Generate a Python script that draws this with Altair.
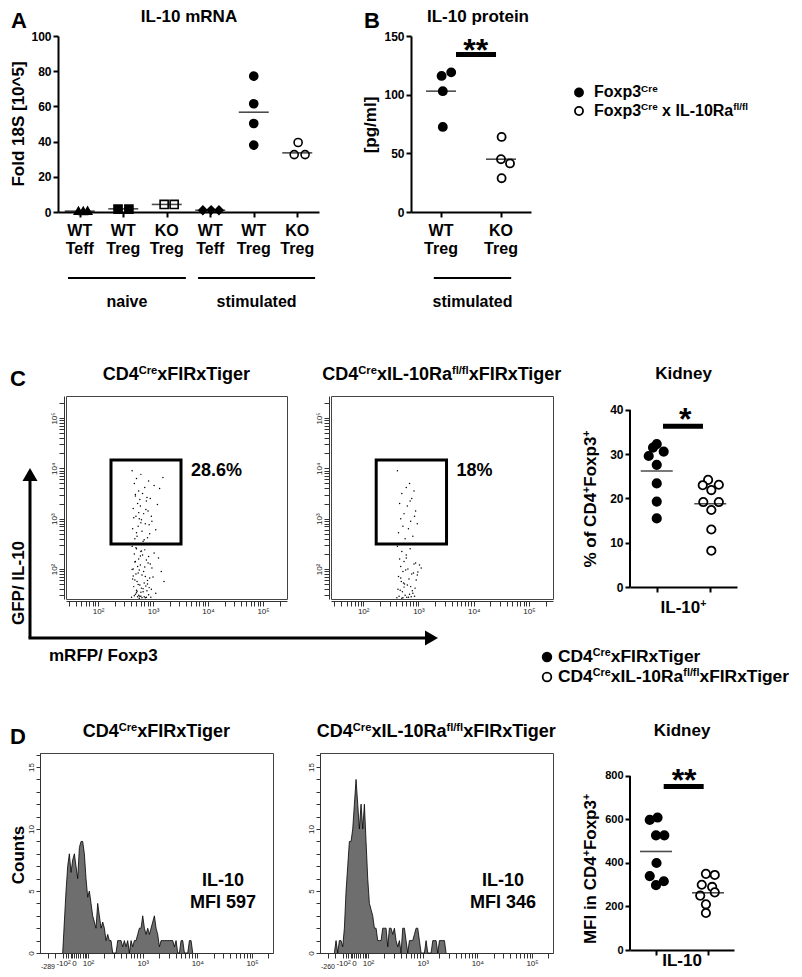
import altair as alt
import numpy as np
import pandas as pd

FONT = "Liberation Sans"

# ======================= DATA =======================
# ---- Panel A : IL-10 mRNA (Fold 18S [10^5]) ----
A_cat_labels = ["WT\nTeff", "WT\nTreg", "KO\nTreg", "WT\nTeff", "WT\nTreg", "KO\nTreg"]
A_cat_shapes = ["triangle-up", "square", "square", "diamond", "circle", "circle"]
A_cat_fills = ["black", "black", "white", "black", "black", "white"]
A_pt_group = [0, 0, 0, 1, 1, 2, 2, 3, 3, 3, 4, 4, 4, 4, 5, 5, 5]
A_pt_value = [0.7, 0.8, 0.6, 1.6, 1.6, 4.3, 4.3, 1.0, 1.1, 1.0, 77.2, 61.5, 50.3, 38.0, 39.5, 32.6, 32.6]
A_pt_jitter = [-0.03, 0.18, 0.08, -0.12, 0.13, -0.06, 0.17, -0.17, 0.02, 0.20, 0, 0, 0, 0, 0.02, -0.07, 0.18]
A_means = [0.5, 1.8, 4.3, 1.0, 56.7, 33.6]
A_brackets = ["naive", "stimulated"]
A_bracket_from = [0.23, 3.22]
A_bracket_to = [2.94, 5.91]

# ---- Panel B : IL-10 protein [pg/ml] ----
B_cat_labels = ["WT\nTreg", "KO\nTreg"]
B_genotypes = [[("Foxp3", 0), ("Cre", 1)],
               [("Foxp3", 0), ("Cre", 1), (" x IL-10Ra", 0), ("fl/fl", 1)]]
B_wt = [116, 119, 103, 72.5]
B_wt_jitter = [0.01, 0.17, 0.03, 0.03]
B_ko = [64, 45, 41.4, 28.8]
B_ko_jitter = [0.01, 0.0, 0.15, 0.01]
B_means = [103, 45]
B_sig = {"from": 0.75, "to": 1.417, "level": 134.2, "star_pos": 1.08, "stars": "**"}
B_bracket = {"from": 0.38, "to": 1.67, "label": "stimulated"}

# ---- Panel C : flow plots (log10 units) ----
CD_genotypes = [[("CD4", 0), ("Cre", 1), ("xFIRxTiger", 0)],
                [("CD4", 0), ("Cre", 1), ("xIL-10Ra", 0), ("fl/fl", 1), ("xFIRxTiger", 0)]]
C_percent = ["28.6%", "18%"]
C_gate_x = [2.236, 3.509]
C_gate_y = [2.496, 4.165]
C1_logx = [2.62, 2.70, 2.78, 2.66, 2.85, 2.92, 2.74, 2.68, 2.81, 2.95,
           3.02, 2.72, 2.88, 2.64, 2.77, 2.83, 2.91, 2.69, 2.75, 2.98,
           3.08, 2.86, 2.73, 2.63, 2.80, 2.94, 2.71, 2.67, 2.84, 2.90,
           3.12, 2.76, 2.65, 2.79, 2.87, 2.97, 2.70, 2.82, 2.93, 3.05,
           2.68, 2.74, 2.89, 2.78, 3.18,
           2.62, 2.70, 2.78, 2.66, 2.85, 2.92, 2.74, 2.68, 2.81, 2.95,
           3.02, 2.72, 2.88, 2.64, 2.77, 2.83, 2.91, 2.69, 2.75, 2.98,
           3.10, 2.86, 2.73, 2.63, 2.80, 2.94, 2.71, 2.67, 2.84, 2.90,
           3.15, 2.76, 2.65, 2.79, 2.87, 2.97, 2.70, 2.82, 2.93, 3.05,
           2.68, 2.74, 2.89, 2.78, 3.20, 2.61, 2.72, 2.80, 2.66, 2.88,
           2.75, 2.70, 2.84, 2.92, 2.64, 2.78, 2.86, 2.96, 2.69, 2.77,
           2.62, 2.82, 2.73, 2.90, 2.67, 2.79, 3.00, 2.71, 2.85, 2.76]
C1_logy = [3.95, 3.80, 3.88, 3.70, 3.62, 3.75, 3.55, 3.45, 3.50, 3.40,
           3.66, 3.30, 3.35, 3.20, 3.25, 3.10, 3.15, 3.05, 3.00, 2.95,
           3.28, 2.90, 2.85, 2.80, 2.75, 2.70, 2.65, 2.60, 2.58, 2.62,
           3.60, 3.38, 3.02, 2.98, 3.18, 3.05, 2.72, 2.55, 2.88, 2.78,
           3.48, 3.12, 3.42, 2.92, 3.82,
           2.45, 2.40, 2.35, 2.30, 2.38, 2.25, 2.20, 2.15, 2.28, 2.10,
           2.32, 2.05, 2.18, 2.00, 2.08, 1.95, 2.12, 1.90, 1.98, 2.02,
           2.22, 1.85, 1.92, 1.80, 1.88, 1.82, 1.75, 1.78, 1.72, 1.70,
           1.95, 1.68, 1.65, 1.62, 1.66, 1.60, 1.58, 1.55, 1.63, 1.52,
           1.50, 1.48, 1.57, 1.46, 1.75, 1.44, 1.45, 1.43, 1.47, 1.44,
           1.42, 1.53, 1.45, 1.49, 1.86, 1.54, 1.43, 1.44, 2.42, 2.26,
           1.99, 1.61, 1.69, 1.77, 2.14, 2.36, 1.84, 1.56, 2.04, 1.46]
C2_logx = [2.62, 2.84, 2.78, 2.70, 2.92, 2.88, 2.66, 2.80, 2.95, 2.74,
           2.68, 2.86, 2.98, 2.72, 2.82, 2.64, 2.90, 2.76, 2.85, 2.93,
           2.62, 2.70, 2.78, 2.66, 2.85, 2.92, 2.74, 2.68, 2.81, 2.95,
           3.02, 2.72, 2.88, 2.64, 2.77, 2.83, 2.91, 2.69, 2.75, 2.98,
           3.05, 2.86, 2.73, 2.63, 2.80, 2.94, 2.71, 2.67, 2.84, 2.90,
           2.96, 2.76, 2.65, 2.79, 2.87, 2.61, 2.70, 2.82, 2.93, 2.68,
           2.74, 2.89, 2.78, 2.99, 2.72]
C2_logy = [3.95, 3.70, 3.62, 3.50, 3.55, 3.40, 3.30, 3.25, 3.15, 3.10,
           3.00, 2.95, 2.90, 2.85, 2.80, 2.72, 2.65, 2.60, 3.35, 3.05,
           2.45, 2.35, 2.28, 2.20, 2.40, 2.10, 2.15, 2.05, 2.00, 2.12,
           2.08, 1.95, 1.90, 1.85, 1.98, 1.80, 1.92, 1.75, 1.70, 1.88,
           2.02, 1.65, 1.72, 1.60, 1.68, 1.62, 1.55, 1.58, 1.50, 1.52,
           1.78, 1.48, 1.46, 1.44, 1.45, 1.43, 1.42, 1.44, 1.46, 1.82,
           1.64, 1.57, 2.22, 1.94, 1.43]

# ---- Panel C right : Kidney % of CD4+Foxp3+ ----
Cdot_wt = [32.3, 31.5, 30.6, 29.6, 27.6, 23.4, 19.3, 15.5]
Cdot_wt_jitter = [0.0, -0.07, 0.13, -0.15, 0.0, 0.0, 0.0, 0.0]
Cdot_ko = [24.2, 23.0, 23.1, 21.9, 19.2, 19.2, 17.4, 13.0, 8.2]
Cdot_ko_jitter = [-0.04, -0.14, 0.16, 0.02, -0.13, 0.16, 0.02, 0.02, 0.02]
Cdot_means = [26.2, 18.8]
Cdot_sig = {"from": 0.617, "to": 1.364, "level": 36.3, "star_pos": 1.03, "stars": "*"}

# ---- Panel D : histograms (counts per display bin) ----
D_bin_width = 0.0305
D1_first_bin = 1.537
D1_counts = [0, 2.5, 5, 7, 8, 6.5, 7.5, 8, 7, 6, 8.5, 9, 9, 8, 6, 4.5, 5, 4, 3, 2.5,
             2, 4, 3, 2, 2.5, 2, 1, 1.5, 1, 1, 0, 0, 0, 1, 1, 1, 0.5, 1, 0.5, 1,
             0, 1, 0.5, 1, 1, 1.5, 2, 2, 3, 2, 1.5, 2, 1.5, 2, 2.5, 3, 2, 1.5, 0.5, 1,
             1, 1, 1, 1, 1, 1, 1, 0.5, 1, 0, 0, 1, 1, 0, 0, 0, 1, 1, 0]
D2_first_bin = 1.385
D2_counts = [0, 1, 0, 1, 1, 0.5, 2, 5, 7, 9, 9, 10, 12, 14, 12, 10, 12, 10, 12, 9,
             6, 4, 3.5, 3, 2, 2, 1, 1, 1, 2, 2, 2, 0.5, 2, 2, 1.5, 2, 1, 0.5, 1,
             0, 2, 2, 1, 0, 1, 1, 1, 1.5, 2, 2, 1, 0, 0, 0, 1, 0, 0, 0, 1,
             1, 1, 0, 1, 1, 1, 1, 0]
D_mfi = ["IL-10\nMFI 597", "IL-10\nMFI 346"]
D_left_label = ["-289", "-260"]

# ---- Panel D right : Kidney MFI ----
Ddot_wt = [598, 609, 527, 527, 400, 340, 316, 298]
Ddot_wt_jitter = [-0.12, 0.03, 0.0, 0.16, 0.01, -0.12, 0.15, 0.0]
Ddot_ko = [350, 345, 300, 290, 265, 250, 210, 170]
Ddot_ko_jitter = [-0.04, 0.13, -0.12, 0.08, 0.13, -0.15, -0.04, -0.04]
Ddot_means = [453, 263]
Ddot_sig = {"from": 0.648, "to": 1.417, "level": 752, "star_pos": 1.04, "stars": "**"}

# ======================= HELPERS =======================
ARIAL_BOLD = {
    ' ': 278, '!': 333, '%': 889, '*': 389, '+': 584, '-': 333, '.': 278, '/': 278, '^': 584,
    '[': 333, ']': 333, '0': 556, '1': 556, '2': 556, '3': 556, '4': 556, '5': 556, '6': 556,
    '7': 556, '8': 556, '9': 556, 'A': 722, 'B': 722, 'C': 722, 'D': 722, 'E': 667, 'F': 611,
    'G': 778, 'H': 722, 'I': 278, 'J': 556, 'K': 722, 'L': 611, 'M': 833, 'N': 722, 'O': 778,
    'P': 667, 'Q': 778, 'R': 722, 'S': 667, 'T': 611, 'U': 722, 'V': 667, 'W': 944, 'X': 667,
    'Y': 667, 'Z': 611, 'a': 556, 'b': 611, 'c': 556, 'd': 611, 'e': 556, 'f': 333, 'g': 611,
    'h': 611, 'i': 278, 'j': 278, 'k': 556, 'l': 278, 'm': 889, 'n': 611, 'o': 611, 'p': 611,
    'q': 611, 'r': 389, 's': 556, 't': 333, 'u': 611, 'v': 556, 'w': 778, 'x': 556, 'y': 556,
    'z': 500,
}


def twidth(s, size):
    return sum(ARIAL_BOLD.get(ch, 556) for ch in s) * size / 1000.0


def vtext(text, x, y, size=17, weight="bold", align="center", baseline="middle",
          angle=0, color="black", line_height=None, font=FONT):
    props = dict(font=font, fontSize=size, fontWeight=weight, align=align,
                 baseline=baseline, color=color, lineBreak="\n")
    if angle:
        props["angle"] = angle
    if line_height:
        props["lineHeight"] = line_height
    return alt.Chart(pd.DataFrame({"t": [text]})).mark_text(**props).encode(
        x=alt.value(x), y=alt.value(y), text="t:N")


def rich(segments, x, y, size=17, align="center", angle=0, sup_scale=0.62, sup_rise=0.36):
    """Text with superscript runs; (x, y) is the middle of the line."""
    sizes = [size * (sup_scale if s else 1.0) for _, s in segments]
    widths = [twidth(t, fs) for (t, _), fs in zip(segments, sizes)]
    total = sum(widths)
    off = {"center": -total / 2.0, "left": 0.0, "right": -total}[align]
    out = []
    for (t, s), fs, w in zip(segments, sizes, widths):
        lead = twidth(t[: len(t) - len(t.lstrip(" "))], fs)
        shift = 0.30 * size - (sup_rise * size if s else 0.0)
        if angle == 0:
            out.append(vtext(t.strip(), x + off + lead, y + shift, size=fs, align="left",
                             baseline="alphabetic"))
        else:
            out.append(vtext(t.strip(), x + shift, y - off - lead, size=fs, align="left",
                             baseline="alphabetic", angle=270))
        off += w
    return out


def anchor(x, y1, y2):
    return alt.Chart(pd.DataFrame({"a": [0]})).mark_rect(opacity=0).encode(
        x=alt.value(x), x2=alt.value(x + 1), y=alt.value(y1), y2=alt.value(y2))


def spacer(w):
    return alt.Chart(pd.DataFrame({"s": [0]})).mark_text(text="").encode(
        x=alt.value(0), y=alt.value(0)).properties(width=w, height=1)


def legend_dot(x, y, fill, size):
    return alt.Chart(pd.DataFrame({"a": [0]})).mark_point(
        shape="circle", filled=True, fill=fill, stroke="black", strokeWidth=1.8, size=size,
        opacity=1).encode(x=alt.value(x), y=alt.value(y))


def gp_x_axis(n):
    return alt.Axis(values=[i + 0.5 for i in range(n)], labels=False, title=None, grid=False,
                    domainWidth=2, domainColor="black", tickWidth=2, tickSize=5,
                    tickColor="black")


def gp_y_axis(values, fs=12, domain=True):
    return alt.Axis(values=values, title=None, grid=False, domain=domain, domainWidth=2,
                    domainColor="black", tickWidth=2, tickSize=5, tickColor="black",
                    labelFont=FONT, labelFontSize=fs, labelFontWeight="bold",
                    labelColor="black", labelPadding=2)


def label_expr(values, labels):
    parts = [f"datum.value == {v} ? '{l}'" for v, l in zip(values, labels)]
    return " : ".join(parts) + " : ''"


# ======================= PANEL A =======================
A_W, A_H = 261, 176
A_xscale = alt.Scale(domain=[0, 6], nice=False, zero=False)
A_yscale = alt.Scale(domain=[0, 100], nice=False, zero=False)


def xA(f):
    return alt.X(f, scale=A_xscale, axis=gp_x_axis(6))


yA = alt.Y("val:Q", scale=A_yscale, axis=gp_y_axis([0, 20, 40, 60, 80, 100]))

a_pts = pd.DataFrame({
    "pos": [g + 0.5 + j for g, j in zip(A_pt_group, A_pt_jitter)],
    "val": A_pt_value,
    "grp": [str(g) for g in A_pt_group],
})
a_mean = pd.DataFrame({"pos": [i + 0.5 for i in range(6)], "val": A_means})
a_lab = pd.DataFrame({"pos": [i + 0.5 for i in range(6)], "t": A_cat_labels})
a_br = pd.DataFrame({"pos": A_bracket_from, "pos2": A_bracket_to,
                     "mid": [(a + b) / 2 for a, b in zip(A_bracket_from, A_bracket_to)],
                     "t": A_brackets})
grp_dom = [str(i) for i in range(6)]

A_chart = alt.layer(
    anchor(-49, -28, 282),
    alt.Chart(a_pts).mark_point(filled=True, stroke="black", strokeWidth=1.6, size=65, opacity=1).encode(
        x=xA("pos:Q"), y=yA,
        shape=alt.Shape("grp:N", scale=alt.Scale(domain=grp_dom, range=A_cat_shapes), legend=None),
        fill=alt.Fill("grp:N", scale=alt.Scale(domain=grp_dom, range=A_cat_fills), legend=None)),
    alt.Chart(a_mean).mark_tick(orient="horizontal", size=30, thickness=1.6, color="black").encode(
        x=xA("pos:Q"), y=yA),
    alt.Chart(a_lab).mark_text(font=FONT, fontSize=16, fontWeight="bold", lineBreak="\n",
                               lineHeight=18, baseline="top", color="black").encode(
        x=xA("pos:Q"), y=alt.value(A_H + 11), text="t:N"),
    alt.Chart(a_br).mark_rule(strokeWidth=2, color="black").encode(
        x=xA("pos:Q"), x2="pos2:Q", y=alt.value(A_H + 66)),
    alt.Chart(a_br).mark_text(font=FONT, fontSize=16, fontWeight="bold", color="black").encode(
        x=xA("mid:Q"), y=alt.value(A_H + 90), text="t:N"),
    vtext("A", -47, -25, size=22, align="left", baseline="top"),
    vtext("IL-10 mRNA", 131, -27, size=17, baseline="top"),
    vtext("Fold 18S [10^5]", -39, 88, size=17, angle=270),
).properties(width=A_W, height=A_H)

# ======================= PANEL B =======================
B_W, B_H = 120, 176
B_xscale = alt.Scale(domain=[0, 2], nice=False, zero=False)
B_yscale = alt.Scale(domain=[0, 150], nice=False, zero=False)


def xB(f):
    return alt.X(f, scale=B_xscale, axis=gp_x_axis(2))


def yB(f="val:Q"):
    return alt.Y(f, scale=B_yscale, axis=gp_y_axis([0, 50, 100, 150]))


b_pts = pd.DataFrame({
    "pos": [0.5 + j for j in B_wt_jitter] + [1.5 + j for j in B_ko_jitter],
    "val": B_wt + B_ko,
    "geno": ["wt"] * len(B_wt) + ["ko"] * len(B_ko),
})
b_mean = pd.DataFrame({"pos": [0.5, 1.5], "val": B_means})
b_lab = pd.DataFrame({"pos": [0.5, 1.5], "t": B_cat_labels})
b_sig = pd.DataFrame({"pos": [B_sig["from"]], "pos2": [B_sig["to"]], "val": [B_sig["level"]],
                      "spos": [B_sig["star_pos"]], "t": [B_sig["stars"]]})
b_br = pd.DataFrame({"pos": [B_bracket["from"]], "pos2": [B_bracket["to"]],
                     "mid": [(B_bracket["from"] + B_bracket["to"]) / 2], "t": [B_bracket["label"]]})

B_chart = alt.layer(
    alt.Chart(b_pts).mark_point(shape="circle", filled=True, stroke="black", strokeWidth=1.8,
                                size=65, opacity=1).encode(
        x=xB("pos:Q"), y=yB(),
        fill=alt.Fill("geno:N", scale=alt.Scale(domain=["wt", "ko"], range=["black", "white"]),
                      legend=None)),
    alt.Chart(b_mean).mark_tick(orient="horizontal", size=30, thickness=1.6, color="black").encode(
        x=xB("pos:Q"), y=yB()),
    alt.Chart(b_sig).mark_rule(strokeWidth=5, color="black").encode(
        x=xB("pos:Q"), x2="pos2:Q", y=yB()),
    alt.Chart(b_sig).mark_text(font=FONT, fontSize=32, fontWeight="bold", dy=6, baseline="alphabetic",
                               color="black").encode(x=xB("spos:Q"), y=yB(), text="t:N"),
    alt.Chart(b_lab).mark_text(font=FONT, fontSize=16, fontWeight="bold", lineBreak="\n",
                               lineHeight=18, baseline="top", color="black").encode(
        x=xB("pos:Q"), y=alt.value(B_H + 11), text="t:N"),
    alt.Chart(b_br).mark_rule(strokeWidth=2, color="black").encode(
        x=xB("pos:Q"), x2="pos2:Q", y=alt.value(B_H + 66)),
    alt.Chart(b_br).mark_text(font=FONT, fontSize=16, fontWeight="bold", color="black").encode(
        x=xB("mid:Q"), y=alt.value(B_H + 90), text="t:N"),
    vtext("B", -47, -25, size=22, align="left", baseline="top"),
    vtext("IL-10 protein", 67, -27, size=17, baseline="top"),
    vtext("[pg/ml]", -40, 89, size=17, angle=270),
    legend_dot(168, 56.5, "black", 65),
    legend_dot(168, 75, "white", 65),
    *rich(B_genotypes[0], 183, 56.5, size=16, align="left"),
    *rich(B_genotypes[1], 183, 75, size=16, align="left"),
).properties(width=B_W, height=B_H)

# ======================= PANEL C flow =======================
C_W, C_H = 221, 203
C_XDOM = [1.418, 5.436]
C_YDOM = [1.404, 5.437]
C_major = [2.0, 3.0, 4.0, 5.0]
C_major_labels = ["10²", "10³", "10⁴", "10⁵"]
C_minor = [round(float(d + np.log10(k)), 4) for d in range(1, 6) for k in range(2, 10)
           if 1.42 <= d + np.log10(k) <= 5.43]
C_expr = label_expr(C_major, C_major_labels)
FRAME = alt.ViewBackground(stroke="#444", strokeWidth=1)


def flow_axis(vertical):
    kw = dict(values=C_major + C_minor, labelExpr=C_expr, title=None, grid=False, offset=2,
              tickSize=5, tickColor="#333", domainColor="#333", labelFont=FONT, labelFontSize=8,
              labelColor="#222", labelPadding=1, labelOverlap=False, labelFlush=False)
    if vertical:
        kw.update(labelAngle=270, labelAlign="center", labelBaseline="bottom")
    return alt.Axis(**kw)


def flow_panel(idx):
    lx = C1_logx if idx == 0 else C2_logx
    ly = C1_logy if idx == 0 else C2_logy
    xs = alt.Scale(domain=C_XDOM, nice=False, zero=False)
    ys = alt.Scale(domain=C_YDOM, nice=False, zero=False)

    def X(f):
        return alt.X(f, scale=xs, axis=flow_axis(False))

    def Y(f):
        return alt.Y(f, scale=ys, axis=flow_axis(True))

    W = C_W if idx == 0 else 222
    pts = pd.DataFrame({"lx": lx, "ly": ly})
    gate = pd.DataFrame({"lx": [C_gate_x[0]], "lx2": [C_gate_x[1]],
                         "ly": [C_gate_y[0]], "ly2": [C_gate_y[1]]})
    pct = pd.DataFrame({"lx": [3.69], "ly": [3.947], "t": [C_percent[idx]]})
    layers = []
    if idx == 0:
        layers.append(anchor(-57, -77, 292))
    layers += [
        alt.Chart(pts).mark_circle(size=2.2, color="black", opacity=1).encode(x=X("lx:Q"), y=Y("ly:Q")),
        alt.Chart(gate).mark_rect(fillOpacity=0, stroke="black", strokeWidth=3).encode(
            x=X("lx:Q"), x2="lx2:Q", y=Y("ly:Q"), y2="ly2:Q"),
        alt.Chart(pct).mark_text(font=FONT, fontSize=18, fontWeight="bold", align="left",
                                 baseline="middle", color="black").encode(
            x=X("lx:Q"), y=Y("ly:Q"), text="t:N"),
        *rich(CD_genotypes[idx], W / 2, -21, size=18),
    ]
    if idx == 0:
        one = pd.DataFrame({"a": [0]})
        layers += [
            vtext("C", -56, -27, size=22, align="left", baseline="top"),
            alt.Chart(one).mark_rule(strokeWidth=3, color="black").encode(
                x=alt.value(-36), y=alt.value(242), y2=alt.value(84)),
            alt.Chart(one).mark_rule(strokeWidth=3, color="black").encode(
                x=alt.value(-37.5), x2=alt.value(359), y=alt.value(242)),
            alt.Chart(one).mark_point(shape="triangle-up", filled=True, size=225, color="black",
                                      opacity=1).encode(x=alt.value(-36), y=alt.value(78.5)),
            alt.Chart(one).mark_point(shape="triangle-right", filled=True, size=225, color="black",
                                      opacity=1).encode(x=alt.value(365.5), y=alt.value(242)),
            vtext("GFP/ IL-10", -47, 187, size=17, angle=270),
            vtext("mRFP/ Foxp3", -17, 260, size=17, align="left"),
        ]
    return alt.layer(*layers).properties(width=W, height=C_H, view=FRAME)


C1_chart = flow_panel(0)
C2_chart = flow_panel(1)


# ======================= dot plots (C right, D right) =======================
def kidney_panel(W, H, ytop, yticks, fs, wt, wt_j, ko, ko_j, means, sig, star_dy, xtitle,
                 ytitle, ytitle_y, xtitle_y, legend):
    xs = alt.Scale(domain=[0, 2], nice=False, zero=False)
    ys = alt.Scale(domain=[0, ytop], nice=False, zero=False)

    def X(f):
        return alt.X(f, scale=xs, axis=gp_x_axis(2))

    def Y(f="val:Q"):
        return alt.Y(f, scale=ys, axis=gp_y_axis(yticks, fs=fs, domain=False))

    pts = pd.DataFrame({
        "pos": [0.5 + j for j in wt_j] + [1.5 + j for j in ko_j],
        "val": wt + ko,
        "geno": ["wt"] * len(wt) + ["ko"] * len(ko),
    })
    mean = pd.DataFrame({"pos": [0.5, 1.5], "val": means})
    sigdf = pd.DataFrame({"pos": [sig["from"]], "pos2": [sig["to"]], "val": [sig["level"]],
                          "spos": [sig["star_pos"]], "t": [sig["stars"]]})
    axis_line = pd.DataFrame({"val": [0], "val2": [yticks[-1]]})
    layers = [
        alt.Chart(axis_line).mark_rule(strokeWidth=2, color="black").encode(
            x=alt.value(0), y=Y(), y2="val2:Q"),
        alt.Chart(pts).mark_point(shape="circle", filled=True, stroke="black", strokeWidth=1.8,
                                  size=70, opacity=1).encode(
            x=X("pos:Q"), y=Y(),
            fill=alt.Fill("geno:N", scale=alt.Scale(domain=["wt", "ko"], range=["black", "white"]),
                          legend=None)),
        alt.Chart(mean).mark_tick(orient="horizontal", size=32, thickness=1.6, color="black").encode(
            x=X("pos:Q"), y=Y()),
        alt.Chart(sigdf).mark_rule(strokeWidth=5, color="black").encode(
            x=X("pos:Q"), x2="pos2:Q", y=Y()),
        alt.Chart(sigdf).mark_text(font=FONT, fontSize=32, fontWeight="bold", dy=star_dy,
                                   baseline="alphabetic", color="black").encode(
            x=X("spos:Q"), y=Y(), text="t:N"),
        vtext("Kidney", W / 2, -22, size=17),
        *rich(ytitle, -39, ytitle_y, size=17, angle=270),
        *rich(xtitle, W / 2, xtitle_y, size=17),
    ]
    if legend:
        layers += [
            legend_dot(-83, 261, "black", 75),
            legend_dot(-83, 281, "white", 75),
            *rich(CD_genotypes[0], -72, 261, size=17.4, align="left"),
            *rich(CD_genotypes[1], -72, 281, size=17.4, align="left"),
        ]
    return alt.layer(*layers).properties(width=W, height=H)


Cdot_chart = kidney_panel(107, 191, 43.16, [0, 10, 20, 30, 40], 12, Cdot_wt, Cdot_wt_jitter,
                          Cdot_ko, Cdot_ko_jitter, Cdot_means, Cdot_sig, 4,
                          [("IL-10", 0), ("+", 1)],
                          [("% of CD4", 0), ("+", 1), ("Foxp3", 0), ("+", 1)], 103, 212, True)
Ddot_chart = kidney_panel(104, 197, 905.7, [0, 200, 400, 600, 800], 11, Ddot_wt, Ddot_wt_jitter,
                          Ddot_ko, Ddot_ko_jitter, Ddot_means, Ddot_sig, 5,
                          [("IL-10", 0)],
                          [("MFI in CD4", 0), ("+", 1), ("Foxp3", 0), ("+", 1)], 116, 208, False)

# ======================= PANEL D histograms =======================
D_W, D_H = 233, 200
D_XDOM = [1.122, 5.384]
D_major = [1.543, 1.744, 2.0, 3.0, 4.0, 5.0]
D_major_labels = ["-10²", "0", "10²", "10³", "10⁴", "10⁵"]
D_minor = [1.27, 1.40, 1.60, 1.64, 1.68, 1.71, 1.78, 1.82, 1.86, 1.90, 1.94, 1.97] + [
    round(float(d + np.log10(k)), 4) for d in range(2, 6) for k in range(2, 10)
    if d + np.log10(k) <= 5.38]
D_x_expr = label_expr(D_major, D_major_labels)
D_y_expr = label_expr([0, 5, 10, 15], ["0", "5", "10", "15"])


def hist_panel(idx):
    counts = D1_counts if idx == 0 else D2_counts
    first = D1_first_bin if idx == 0 else D2_first_bin
    df = pd.DataFrame({"u": [first + i * D_bin_width for i in range(len(counts))], "count": counts})
    xs = alt.Scale(domain=D_XDOM, nice=False, zero=False)
    ys = alt.Scale(domain=[0, 16.13], nice=False, zero=False)
    ax_x = alt.Axis(values=D_major + D_minor, labelExpr=D_x_expr, title=None, grid=False,
                    tickSize=5, tickColor="#333", domainColor="#333", labelFont=FONT,
                    labelFontSize=8, labelColor="#222", labelPadding=1, labelOverlap=False,
                    labelFlush=False)
    ax_y = alt.Axis(values=list(range(0, 17)), labelExpr=D_y_expr, title=None, grid=False,
                    tickSize=4, tickColor="#333", domainColor="#333", labelFont=FONT,
                    labelFontSize=8, labelColor="#222", labelPadding=1, labelOverlap=False,
                    labelFlush=False, labelAngle=270, labelAlign="center", labelBaseline="bottom")
    layers = []
    if idx == 0:
        layers.append(anchor(-31, -63, 1))
    layers += [
        alt.Chart(df).mark_area(interpolate="linear", color="#6e6e6e", opacity=1,
                                line={"color": "black", "strokeWidth": 0.8}).encode(
            x=alt.X("u:Q", scale=xs, axis=ax_x), y=alt.Y("count:Q", scale=ys, axis=ax_y)),
        *rich(CD_genotypes[idx], D_W / 2, -21, size=18),
        vtext(D_mfi[idx], 183, 119, size=18, baseline="top", line_height=22),
        vtext(D_left_label[idx], 1, D_H + 14, size=7, weight="normal", align="left",
              color="#222"),
    ]
    if idx == 0:
        layers += [
            vtext("D", -30, -26, size=22, align="left", baseline="top"),
            vtext("Counts", -21, 102, size=17, angle=270),
        ]
    return alt.layer(*layers).properties(width=D_W, height=D_H, view=FRAME)


D1_chart = hist_panel(0)
D2_chart = hist_panel(1)


# ======================= LAYOUT =======================
def row(*charts):
    return alt.hconcat(*charts, spacing=0, bounds="flush").resolve_scale(
        fill="independent", shape="independent")


row0 = row(spacer(49), A_chart, spacer(92), B_chart)
row1 = row(spacer(57), C1_chart, spacer(44), C2_chart, spacer(77), Cdot_chart)
row2 = row(spacer(31), D1_chart, spacer(47), D2_chart, spacer(77), Ddot_chart)

chart = alt.vconcat(row0, row1, row2, spacing=0, bounds="full").resolve_scale(
    fill="independent", shape="independent").properties(
    padding=0).configure(font=FONT).configure_view(stroke=None)

chart.save("out.html", embed_options={"renderer": "svg", "actions": False})
